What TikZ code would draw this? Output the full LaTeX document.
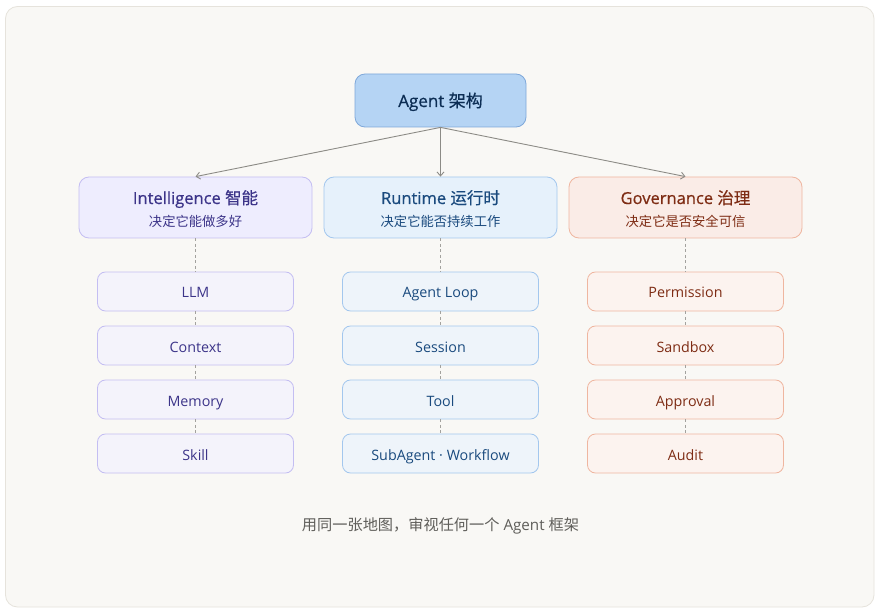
\documentclass[tikz,border=0pt]{standalone}
\usepackage{fontspec}
\setmainfont{Open Sans}
\newfontfamily\cjk{Noto Sans CJK SC}
\newfontfamily\cjkm{Noto Sans CJK SC}[FakeBold=0.5]
\newfontfamily\latm{Open Sans}[FakeBold=0.6]
\usetikzlibrary{arrows.meta}
\definecolor{bgfill}{HTML}{F9F8F5}
\definecolor{bgline}{HTML}{E6E3DC}
\definecolor{topfill}{HTML}{B5D4F4}
\definecolor{topline}{HTML}{7FA8DA}
\definecolor{toptext}{HTML}{0C2D54}
\definecolor{pfill}{HTML}{EEEDFE}
\definecolor{pline}{HTML}{C4BEF2}
\definecolor{ptext}{HTML}{3C3489}
\definecolor{psub}{HTML}{F4F3FB}
\definecolor{bfill}{HTML}{E6F1FB}
\definecolor{bline}{HTML}{A3C7EE}
\definecolor{btext}{HTML}{1A4A7E}
\definecolor{bsub}{HTML}{EEF4FA}
\definecolor{rfill}{HTML}{FAECE7}
\definecolor{rline}{HTML}{EFB6A0}
\definecolor{rtext}{HTML}{7E2C14}
\definecolor{rsub}{HTML}{FCF3EF}
\definecolor{arrowc}{HTML}{8C8B86}
\definecolor{capt}{HTML}{5F5E5A}
\newcommand{\zh}[1]{{\cjk #1}}
\newcommand{\zhm}[1]{{\cjkm #1}}
\tikzset{
  x=1pt,y=-1pt,
  topbox/.style={draw=topline,fill=topfill,rounded corners=10pt,line width=0.8pt,
    minimum width=171pt,minimum height=53pt,inner sep=0pt,text=toptext,
    text height=13pt,text depth=0pt,font=\fontsize{17}{20}\selectfont},
  midbox/.style={rounded corners=10pt,line width=0.8pt,minimum width=233pt,
    minimum height=61pt,inner sep=0pt},
  ttlt/.style={anchor=base,inner sep=0pt,font=\fontsize{16.5}{19}\selectfont\latm},
  ttls/.style={anchor=base,inner sep=0pt,font=\fontsize{13.3}{16}\selectfont\cjk},
  subbox/.style={rounded corners=8pt,line width=0.8pt,minimum width=196pt,
    minimum height=39pt,inner sep=0pt,text height=13pt,text depth=0pt,
    font=\fontsize{14.3}{17}\selectfont},
  pmid/.style={midbox,draw=pline,fill=pfill},
  bmid/.style={midbox,draw=bline,fill=bfill},
  rmid/.style={midbox,draw=rline,fill=rfill},
  psb/.style={subbox,draw=pline,fill=psub,text=ptext},
  bsb/.style={subbox,draw=bline,fill=bsub,text=btext},
  rsb/.style={subbox,draw=rline,fill=rsub,text=rtext},
  arr/.style={draw=arrowc,line width=0.9pt,-{Straight Barb[length=4pt,width=7pt]}},
  dashline/.style={draw=arrowc!80,line width=0.6pt,dash pattern=on 3pt off 2.5pt},
}
\begin{document}
\begin{tikzpicture}
\useasboundingbox (0,0) rectangle (879,615);
\fill[white] (0,0) rectangle (879,615);
\draw[bgline,fill=bgfill,line width=0.8pt,rounded corners=12pt] (5.5,6.5) rectangle (874,607);

\node[topbox] (top) at (440.5,100.5) {{\latm Agent} \zhm{架构}};

\node[pmid] (int) at (195.5,207.5) {};
\node[bmid] (run) at (440.5,207.5) {};
\node[rmid] (gov) at (685.5,207.5) {};
\node[ttlt,text=ptext] (int-t) at (195.5,204) {Intelligence \zhm{智能}};
\node[ttls,text=ptext] (int-s) at (195.5,226.5) {决定它能做多好};
\node[ttlt,text=btext] (run-t) at (440.5,204) {Runtime \zhm{运行时}};
\node[ttls,text=btext] (run-s) at (440.5,226.5) {决定它能否持续工作};
\node[ttlt,text=rtext] (gov-t) at (685.5,204) {Governance \zhm{治理}};
\node[ttls,text=rtext] (gov-s) at (685.5,226.5) {决定它是否安全可信};

\node[psb] (llm) at (195.5,291.5) {LLM};
\node[psb] (ctx) at (195.5,345.5) {Context};
\node[psb] (mem) at (195.5,399.5) {Memory};
\node[psb] (skl) at (195.5,453.5) {Skill};

\node[bsb] (loop) at (440.5,291.5) {Agent Loop};
\node[bsb] (ses) at (440.5,345.5) {Session};
\node[bsb] (tool) at (440.5,399.5) {Tool};
\node[bsb] (sub) at (440.5,453.5) {SubAgent · Workflow};

\node[rsb] (perm) at (685.5,291.5) {Permission};
\node[rsb] (sand) at (685.5,345.5) {Sandbox};
\node[rsb] (appr) at (685.5,399.5) {Approval};
\node[rsb] (aud) at (685.5,453.5) {Audit};

\draw[arr] (top.south) -- (int.north);
\draw[arr] (top.south) -- (run.north);
\draw[arr] (top.south) -- (gov.north);

\foreach \a/\b in {int/llm,llm/ctx,ctx/mem,mem/skl,run/loop,loop/ses,ses/tool,tool/sub,gov/perm,perm/sand,sand/appr,appr/aud}
  \draw[dashline] (\a.south) -- (\b.north);

\node[anchor=base,inner sep=0pt,text=capt,font=\fontsize{15.2}{18}\selectfont] (cap) at (440.5,530) {\zh{用同一张地图，审视任何一个} Agent \zh{框架}};
\end{tikzpicture}
\end{document}
